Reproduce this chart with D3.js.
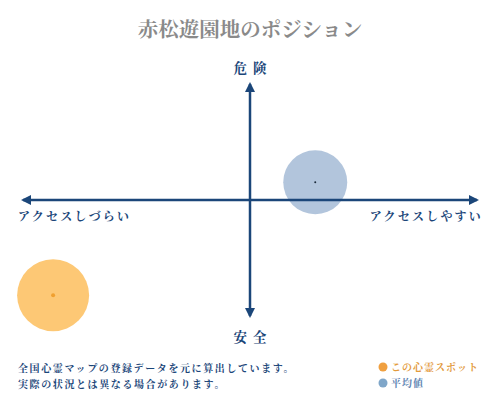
<!DOCTYPE html>
<html>
<head>
<meta charset="utf-8">
<script src="https://cdn.jsdelivr.net/npm/d3@7"></script>
<style>
  body { margin: 0; background: #fff; }
  svg text { font-family: "Noto Serif CJK JP", "Noto Sans CJK JP", serif; }
</style>
</head>
<body>
<div id="chart"></div>
<script>
// データ
var title = "赤松遊園地のポジション";
var axisLabels = { top: "危険", bottom: "安全", left: "アクセスしづらい", right: "アクセスしやすい" };
var seriesNames = ["この心霊スポット", "平均値"];
var seriesX = [-0.845, 0.28];
var seriesY = [-0.78, 0.145];
var seriesR = [36, 32];
var notes = ["全国心霊マップの登録データを元に算出しています。", "実際の状況とは異なる場合があります。"];

var width = 500, height = 400;
var navy = "#1b4679";
var fills = ["#fdc875", "#b2c5dc"];
var dots = ["#f0a030", "#1b2a3a"];
var legendDots = ["#f0a040", "#7fa6c9"];

var svg = d3.select("#chart").append("svg")
  .attr("width", width)
  .attr("height", height);

var xScale = d3.scaleLinear().domain([-1, 1]).range([17, 483]);
var yScale = d3.scaleLinear().domain([-1, 1]).range([322, 78]);

var defs = svg.append("defs");
defs.append("marker")
  .attr("id", "arrow")
  .attr("viewBox", "0 0 10 10")
  .attr("refX", 8).attr("refY", 5)
  .attr("markerWidth", 4).attr("markerHeight", 4)
  .attr("orient", "auto-start-reverse")
  .append("path")
  .attr("d", "M0,0 L10,5 L0,10 Z")
  .attr("fill", navy);

// タイトル
svg.append("text")
  .attr("x", width / 2).attr("y", 37)
  .attr("text-anchor", "middle")
  .attr("font-size", 20.5).attr("font-weight", "bold")
  .attr("fill", "#8a8a8a")
  .text(title);

// 円
var grp = svg.append("g");
grp.selectAll("circle.bubble")
  .data(seriesNames)
  .join("circle")
  .attr("class", "bubble")
  .attr("cx", (d, i) => xScale(seriesX[i]))
  .attr("cy", (d, i) => yScale(seriesY[i]))
  .attr("r", (d, i) => seriesR[i])
  .attr("fill", (d, i) => fills[i]);

// 軸
grp.append("line")
  .attr("x1", xScale(-1) + 6).attr("x2", xScale(1) - 6)
  .attr("y1", yScale(0)).attr("y2", yScale(0))
  .attr("stroke", navy).attr("stroke-width", 2.5)
  .attr("marker-start", "url(#arrow)")
  .attr("marker-end", "url(#arrow)");

grp.append("line")
  .attr("x1", xScale(0)).attr("x2", xScale(0))
  .attr("y1", yScale(1) + 6).attr("y2", yScale(-1) - 6)
  .attr("stroke", navy).attr("stroke-width", 2.5)
  .attr("marker-start", "url(#arrow)")
  .attr("marker-end", "url(#arrow)");

grp.selectAll("circle.center")
  .data(seriesNames)
  .join("circle")
  .attr("class", "center")
  .attr("cx", (d, i) => xScale(seriesX[i]))
  .attr("cy", (d, i) => yScale(seriesY[i]))
  .attr("r", (d, i) => i === 0 ? 2 : 1)
  .attr("fill", (d, i) => dots[i]);

// 軸ラベル
var labelStyle = function(sel) {
  sel.attr("fill", navy).attr("font-weight", "bold");
};
svg.append("text").attr("x", xScale(0) + 3).attr("y", 73)
  .attr("text-anchor", "middle").attr("font-size", 13.5).attr("letter-spacing", 6)
  .call(labelStyle).text(axisLabels.top);
svg.append("text").attr("x", xScale(0) + 3).attr("y", 342)
  .attr("text-anchor", "middle").attr("font-size", 13.5).attr("letter-spacing", 6)
  .call(labelStyle).text(axisLabels.bottom);
svg.append("text").attr("x", 18).attr("y", 221)
  .attr("font-size", 12).attr("letter-spacing", 2.2)
  .call(labelStyle).text(axisLabels.left);
svg.append("text").attr("x", 483).attr("y", 221)
  .attr("text-anchor", "end").attr("font-size", 12).attr("letter-spacing", 2.2)
  .call(labelStyle).text(axisLabels.right);

// 注記
svg.selectAll("text.note")
  .data(notes)
  .join("text")
  .attr("class", "note")
  .attr("x", 18)
  .attr("y", (d, i) => 372 + i * 16)
  .attr("font-size", 10).attr("letter-spacing", 1.6)
  .call(labelStyle)
  .text(d => d);

// 凡例
var legend = svg.selectAll("g.legend")
  .data(seriesNames)
  .join("g")
  .attr("class", "legend")
  .attr("transform", (d, i) => "translate(383," + (367 + i * 16) + ")");
legend.append("circle").attr("r", 4.5).attr("fill", (d, i) => legendDots[i]);
legend.append("text")
  .attr("x", 8).attr("y", 4)
  .attr("font-size", 10).attr("letter-spacing", 1)
  .attr("font-weight", "bold")
  .attr("fill", (d, i) => i === 0 ? "#e39a3c" : "#5f86b3")
  .text(d => d);
</script>
</body>
</html>
